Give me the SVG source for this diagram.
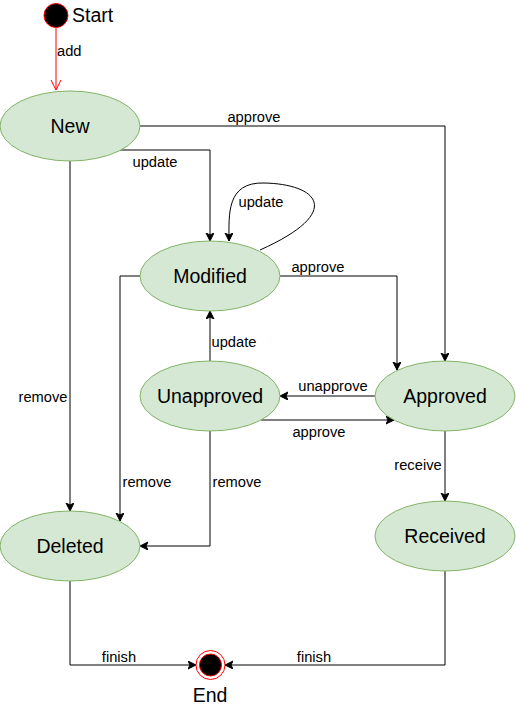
<svg xmlns="http://www.w3.org/2000/svg" width="516" height="711" viewBox="0 0 516 711">
<style>
.st{fill:#d5e8d4;stroke:#82b366;stroke-width:1}
.nt{font-family:"Liberation Sans",Arial,sans-serif;font-size:19.5px;fill:#000;text-anchor:middle}
.lb{font-family:"Liberation Sans",Arial,sans-serif;font-size:14.7px;fill:#000;text-anchor:middle}
.e{fill:none;stroke:#000;stroke-width:1;marker-end:url(#ah)}
</style>
<defs>
<marker id="ah" markerUnits="userSpaceOnUse" markerWidth="10" markerHeight="10" refX="8" refY="4" orient="auto">
<path d="M0,0 L8,4 L0,8 L2,4 z" fill="#000" stroke="#000" stroke-width="1"/>
</marker>
<marker id="oh" markerUnits="userSpaceOnUse" markerWidth="12" markerHeight="12" refX="10" refY="5.5" orient="auto">
<path d="M0,0.5 L10,5.5 L0,10.5" fill="none" stroke="#ff0000" stroke-width="1"/>
</marker>
</defs>
<rect width="516" height="711" fill="#fff"/>
<g id="connectors">
<path d="M56,28 L56,90" fill="none" stroke="#ff0000" marker-end="url(#oh)"/>
<path class="e" d="M140,126 L445,126 L445,361"/>
<path class="e" d="M118,150 L210,150 L210,241"/>
<path class="e" d="M260,250 C345,212 318,184 264,183 C226,182 229,215 229,241"/>
<path class="e" d="M70,161 L70,511"/>
<path class="e" d="M280,276 L397,276 L397,370"/>
<path class="e" d="M140,276 L120,276 L120,521"/>
<path class="e" d="M210,361 L210,311"/>
<path class="e" d="M375,396 L280,396"/>
<path class="e" d="M261,420 L394,420"/>
<path class="e" d="M210,431 L210,546 L140,546"/>
<path class="e" d="M445,431 L445,501"/>
<path class="e" d="M70,581 L70,665 L196,665"/>
<path class="e" d="M445,571 L445,665 L225,665"/>
<text class="lb" x="57" y="56" style="text-anchor:start">add</text>
<text class="lb" x="254" y="122">approve</text>
<text class="lb" x="155" y="167">update</text>
<text class="lb" x="261" y="207">update</text>
<text class="lb" x="43" y="402">remove</text>
<text class="lb" x="318" y="272">approve</text>
<text class="lb" x="234" y="347">update</text>
<text class="lb" x="333" y="391">unapprove</text>
<text class="lb" x="319" y="437">approve</text>
<text class="lb" x="147" y="487">remove</text>
<text class="lb" x="237" y="487">remove</text>
<text class="lb" x="418" y="470">receive</text>
<text class="lb" x="119" y="662">finish</text>
<text class="lb" x="314" y="662">finish</text>
</g>
<g id="start">
<circle cx="56" cy="15.5" r="12" fill="#000" stroke="#ff0000" stroke-width="1"/>
<text class="nt" x="72" y="22" style="text-anchor:start">Start</text>
</g>
<g id="new"><ellipse class="st" cx="70" cy="126" rx="70" ry="35"/><text class="nt" x="70" y="133">New</text></g>
<g id="modified"><ellipse class="st" cx="210" cy="276" rx="70" ry="35"/><text class="nt" x="210" y="283">Modified</text></g>
<g id="unapproved"><ellipse class="st" cx="210" cy="396" rx="70" ry="35"/><text class="nt" x="210" y="403">Unapproved</text></g>
<g id="approved"><ellipse class="st" cx="445" cy="396" rx="70" ry="35"/><text class="nt" x="445" y="403">Approved</text></g>
<g id="deleted"><ellipse class="st" cx="70" cy="546" rx="70" ry="35"/><text class="nt" x="70" y="553">Deleted</text></g>
<g id="received"><ellipse class="st" cx="445" cy="536" rx="70" ry="35"/><text class="nt" x="445" y="543">Received</text></g>
<g id="end">
<circle cx="210.5" cy="665" r="14.5" fill="#fff" stroke="#ff0000" stroke-width="1"/>
<circle cx="210.5" cy="665" r="11" fill="#000" stroke="#ff0000" stroke-width="1"/>
<text class="nt" x="210" y="702">End</text>
</g>
</svg>
